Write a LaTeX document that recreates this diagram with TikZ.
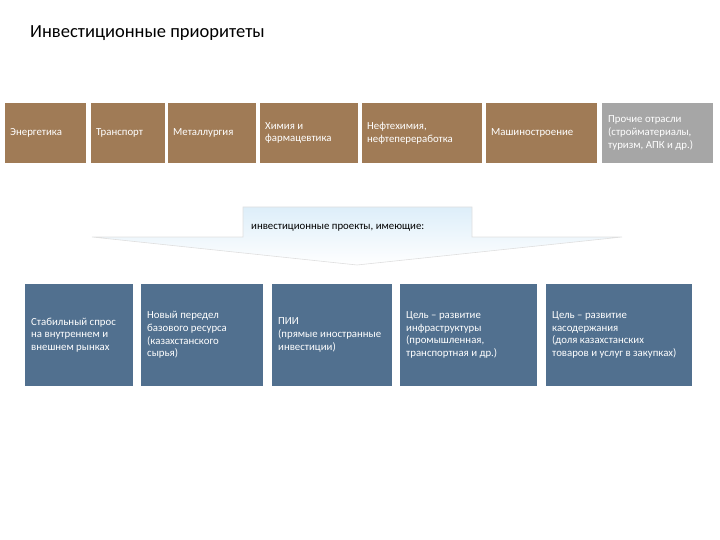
\documentclass[tikz,border=0pt]{standalone}
\usepackage{fontspec}
\setmainfont{Carlito}
\begin{document}
\begin{tikzpicture}[x=1pt,y=-1pt,
  lbl/.style={text=white,font=\fontsize{10.8}{12.8}\selectfont,align=left,anchor=west,inner sep=0pt}]
\definecolor{brn}{HTML}{A07B56}
\definecolor{gry}{HTML}{A6A6A6}
\definecolor{blu}{HTML}{51708F}
\definecolor{abl}{HTML}{DDEEF9}
\useasboundingbox (0,0) rectangle (720,540);
\node[anchor=west,font=\fontsize{18.5}{20}\selectfont,inner sep=0pt] (title) at (30,33) {Инвестиционные приоритеты};
% top row
\foreach \a/\b/\c/\n in {5/86/brn/t1,91/165/brn/t2,168/256/brn/t3,260/358/brn/t4,362/482/brn/t5,486/597/brn/t6,602/713/gry/t7}{
  \fill[\c] (\a,103) rectangle (\b,163);
  \coordinate (\n) at (\a+5,133);
}
\node[lbl] at (t1) {Энергетика};
\node[lbl] at (t2) {Транспорт};
\node[lbl] at (t3) {Металлургия};
\node[lbl] at (t4) {Химия и\\фармацевтика};
\node[lbl] at (t5) {Нефтехимия,\\нефтепереработка};
\node[lbl] at (t6) {Машиностроение};
\node[lbl] at ([xshift=1]t7) {Прочие отрасли\\(стройматериалы,\\туризм, АПК и др.)};
% arrow
\shade[top color=abl,bottom color=white,draw=gray!25,line width=0.6pt]
  (243,207) -- (472,207) -- (472,237) -- (622,237) -- (357,265) -- (92,237) -- (243,237) -- cycle;
\node[anchor=west,font=\fontsize{10.8}{12}\selectfont,inner sep=0pt] (arr) at (251,228) {инвестиционные проекты, имеющие:};
% bottom row
\foreach \a/\b/\n in {25/133/b1,141/263/b2,272/392/b3,400/537/b4,546/692/b5}{
  \fill[blu] (\a,284) rectangle (\b,386);
  \coordinate (\n) at (\a+6,335);
}
\node[lbl] at (b1) {Стабильный спрос\\на внутреннем и\\внешнем рынках};
\node[lbl] at (b2) {Новый передел\\базового ресурса\\(казахстанского\\сырья)};
\node[lbl] at (b3) {ПИИ\\(прямые иностранные\\инвестиции)};
\node[lbl] at (b4) {Цель – развитие\\инфраструктуры\\(промышленная,\\транспортная и др.)};
\node[lbl] at (b5) {Цель – развитие\\касодержания\\(доля казахстанских\\товаров и услуг в закупках)};
\end{tikzpicture}
\end{document}
